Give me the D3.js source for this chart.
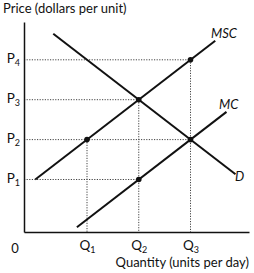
<!DOCTYPE html>
<html>
<head>
<meta charset="utf-8">
<script src="https://cdn.jsdelivr.net/npm/d3@7"></script>
<style>
  body { margin: 0; background: #fff; }
  text { font-family: Lato, "Open Sans", sans-serif; fill: #111; }
</style>
</head>
<body>
<svg id="chart" width="254" height="273"></svg>
<script>
// quantities and prices (abstract units)
var qTicks = [28, 51, 74];
var qNames = ["Q1", "Q2", "Q3"];
var pTicks = [25, 44, 63, 82];
var pNames = ["P1", "P2", "P3", "P4"];

// curves
var msc = [[5, 25], [85, 91.1]];
var demand = [[13, 94.4], [94, 27.5]];
var mc = [[23.5, 2.3], [90, 57.2]];

// marked points
var dots = [[28, 44], [51, 63], [74, 82], [74, 44], [51, 25]];

// dotted guides
var hGuides = [[51, 25], [74, 44], [51, 63], [74, 82]];
var vGuides = [[28, 44], [51, 63], [74, 82]];

var svg = d3.select("#chart");
var x = d3.scaleLinear().domain([0, 100]).range([24, 249]);
var y = d3.scaleLinear().domain([0, 100]).range([232, 22]);

var line = d3.line().x(d => x(d[0])).y(d => y(d[1]));

svg.selectAll(".hg").data(hGuides).enter().append("line")
  .attr("x1", x(0)).attr("x2", d => x(d[0]))
  .attr("y1", d => y(d[1])).attr("y2", d => y(d[1]))
  .attr("stroke", "#444").attr("stroke-width", 1).attr("stroke-dasharray", "1.2,1.4");
svg.selectAll(".vg").data(vGuides).enter().append("line")
  .attr("x1", d => x(d[0])).attr("x2", d => x(d[0]))
  .attr("y1", d => y(d[1])).attr("y2", y(0))
  .attr("stroke", "#444").attr("stroke-width", 1).attr("stroke-dasharray", "1.2,1.4");

// axes
var xAxis = svg.append("g").attr("transform", `translate(0,${y(0)})`)
  .call(d3.axisBottom(x).tickValues(qTicks).tickSize(0).tickPadding(9).tickFormat((d, i) => qNames[i]));
var yAxis = svg.append("g").attr("transform", `translate(${x(0)},0)`)
  .call(d3.axisLeft(y).tickValues(pTicks).tickSize(0).tickPadding(4).tickFormat((d, i) => pNames[i]));
[xAxis, yAxis].forEach(g => {
  g.select(".domain").attr("stroke", "#111").attr("stroke-width", 1.5);
  g.selectAll("text").attr("font-size", 13.5).attr("fill", "#111")
    .each(function() {
      var t = d3.select(this), s = t.text();
      t.text("");
      t.append("tspan").text(s[0]);
      t.append("tspan").attr("font-size", 9).attr("dy", 3).text(s.slice(1));
    });
});
xAxis.selectAll("text").attr("dy", "0.65em");
yAxis.selectAll("text").attr("dy", "0.2em");
svg.append("text").attr("x", 15).attr("y", 253).attr("font-size", 13).attr("text-anchor", "middle").text("0");

// curves
[msc, demand, mc].forEach(c => {
  svg.append("path").attr("d", line(c)).attr("fill", "none")
    .attr("stroke", "#111").attr("stroke-width", 2);
});

svg.selectAll(".dot").data(dots).enter().append("circle")
  .attr("cx", d => x(d[0])).attr("cy", d => y(d[1])).attr("r", 2.8).attr("fill", "#111");

// curve labels
svg.append("text").attr("x", 211).attr("y", 38).attr("font-size", 13).attr("font-style", "italic").text("MSC");
svg.append("text").attr("x", 219).attr("y", 109).attr("font-size", 13).attr("font-style", "italic").text("MC");
svg.append("text").attr("x", 235).attr("y", 181).attr("font-size", 13).attr("font-style", "italic").text("D");

// axis titles
svg.append("text").attr("x", 3).attr("y", 13).attr("font-size", 13).text("Price (dollars per unit)");
svg.append("text").attr("x", 249).attr("y", 267).attr("font-size", 13).attr("text-anchor", "end").text("Quantity (units per day)");
</script>
</body>
</html>
